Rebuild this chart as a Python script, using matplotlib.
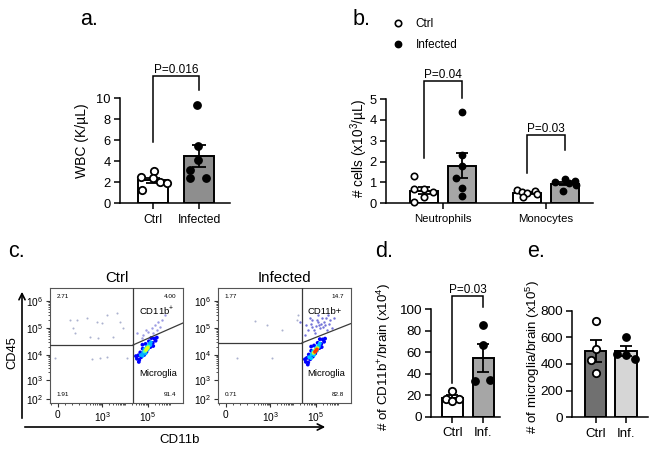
import matplotlib
matplotlib.use('Agg')
import matplotlib.pyplot as plt
import numpy as np
from matplotlib.lines import Line2D
from matplotlib.patches import FancyArrowPatch
from matplotlib.transforms import Affine2D

plt.rcParams['font.family'] = ['Liberation Sans', 'DejaVu Sans']
plt.rcParams['mathtext.fontset'] = 'custom'
plt.rcParams['mathtext.rm'] = 'Liberation Sans'
plt.rcParams['mathtext.it'] = 'Liberation Sans:italic'
plt.rcParams['mathtext.bf'] = 'Liberation Sans:bold'

# ---------------- data ----------------
# panel a
a_groups = ['Ctrl', 'Infected']
a_ctrl = [3.1, 2.5, 2.4, 2.0, 1.9, 1.3]
a_inf = [9.4, 5.5, 4.1, 3.15, 2.4, 2.45]
a_p = 'P=0.016'

# panel b
b_cells = ['Neutrophils', 'Monocytes']
b_series = ['Ctrl', 'Infected']
b_ctrl = [[1.33, 0.7, 0.7, 0.55, 0.3, 0.08], [0.65, 0.6, 0.55, 0.5, 0.45, 0.3]]
b_inf = [[4.4, 2.3, 1.8, 1.2, 0.75, 0.35], [1.15, 1.05, 1.0, 0.95, 0.9, 0.6]]
b_p = ['P=0.04', 'P=0.03']

# panel c (flow cytometry, display units: x,y in biexponential decades)
c_titles = ['Ctrl', 'Infected']
c_quadrants = [['2.71', '4.00', '1.91', '91.4'], ['1.77', '14.7', '0.71', '82.8']]
c_gate_labels = [['CD11b$^{+}$', 'Microglia'], ['CD11b+', 'Microglia']]
c_xticklabels = ['0', '$10^3$', '$10^5$']
c_yticklabels = ['$10^2$', '$10^3$', '$10^4$', '$10^5$', '$10^6$']
# sparse events
c_ctrl_sparse_x = [0.83, 1.13, 1.54, 1.96, 2.17, 2.38, 2.79, 2.92, 0.96, 1.04, 1.67, 2.0, 2.63, 3.04,
                   0.21, 1.75, 2.08, 2.38, 3.21]
c_ctrl_sparse_y = [5.28, 5.28, 5.36, 5.21, 5.17, 5.47, 5.55, 5.21, 4.98, 4.79, 4.64, 4.60, 4.64, 4.98,
                   3.85, 3.81, 3.85, 3.89, 3.85]
c_inf_sparse_x = [2.03, 2.65, 0.78, 2.24, 3.28, 3.33, 1.55]
c_inf_sparse_y = [5.09, 4.91, 3.84, 3.84, 5.28, 5.47, 5.25]
# CD11b+ events
c_ctrl_pos_x = [3.89, 4.10, 4.24, 4.30, 4.45, 4.58, 4.17, 3.82, 4.51, 4.79, 3.63, 4.00, 4.38, 4.66]
c_ctrl_pos_y = [4.72, 4.84, 4.97, 4.78, 4.91, 5.03, 4.65, 4.59, 5.22, 5.47, 4.79, 4.90, 5.10, 5.30]
c_inf_pos_x = [3.63, 3.75, 3.92, 4.04, 4.17, 4.25, 4.33, 4.46, 4.54, 4.67, 4.58, 4.17, 3.92, 4.42,
               4.08, 3.67, 3.42, 3.83, 4.75, 4.83, 4.30, 4.12, 4.50, 3.98, 4.38, 4.62, 4.22, 3.86]
c_inf_pos_y = [4.72, 4.91, 5.02, 4.79, 5.21, 4.98, 5.36, 5.09, 4.91, 5.28, 5.47, 5.47, 5.28, 5.21,
               5.06, 5.09, 5.21, 5.36, 4.98, 5.36, 5.15, 5.30, 5.35, 4.90, 5.00, 5.15, 5.08, 5.12]
# microglia events (x, y, relative density)
c_ctrl_mg_x = [3.62, 3.72, 3.68, 3.80, 3.76, 3.92, 3.86, 4.02, 3.98, 4.18, 4.12, 4.28, 4.34, 4.22, 3.58,
               4.40, 3.70, 4.30, 3.85, 4.45,
               3.78, 3.88, 3.93, 4.04, 4.14, 4.20, 3.86, 4.08, 3.98, 4.18,
               3.94, 4.02, 4.10, 3.99, 4.06, 4.03, 4.00, 4.07]
c_ctrl_mg_y = [3.82, 3.78, 3.95, 3.88, 4.06, 3.96, 4.20, 4.08, 4.38, 4.26, 4.48, 4.42, 4.58, 4.60, 3.92,
               4.50, 3.70, 4.30, 4.35, 4.62,
               3.96, 4.06, 4.18, 4.28, 4.38, 4.44, 3.93, 4.18, 4.02, 4.34,
               4.10, 4.20, 4.28, 4.13, 4.24, 4.20, 4.15, 4.23]
c_ctrl_mg_d = [0.12] * 20 + [0.3] * 10 + [0.45] * 5 + [0.62] * 3
c_inf_mg_x = [3.66, 3.76, 3.70, 3.84, 3.78, 3.95, 3.88, 4.05, 4.00, 4.22, 4.15, 4.30, 4.36, 4.24, 3.62,
              4.42, 3.74, 4.32, 3.88, 4.46,
              3.80, 3.90, 3.96, 4.08, 4.18, 4.24, 3.88, 4.12, 4.00, 4.20,
              3.98, 4.06, 4.14, 4.02, 4.10, 4.08, 4.04, 4.12]
c_inf_mg_y = [3.70, 3.68, 3.85, 3.80, 3.98, 3.90, 4.12, 4.02, 4.32, 4.22, 4.42, 4.38, 4.55, 4.56, 3.80,
              4.46, 3.60, 4.26, 4.28, 4.58,
              3.88, 3.98, 4.10, 4.22, 4.32, 4.40, 3.84, 4.12, 3.96, 4.28,
              4.04, 4.14, 4.22, 4.06, 4.18, 4.12, 4.08, 4.17]
c_inf_mg_d = [0.12] * 20 + [0.32] * 10 + [0.6] * 5 + [0.85] * 3

# panel d
d_groups = ['Ctrl', 'Inf.']
d_ctrl = [24, 16, 16, 15]
d_inf = [85, 67, 33, 34]
d_p = 'P=0.03'

# panel e
e_groups = ['Ctrl', 'Inf.']
e_ctrl = [725, 510, 430, 335]
e_inf = [600, 475, 470, 440]

# ---------------- layout helpers ----------------
W, H = 652, 451
fig = plt.figure(figsize=(W / 100, H / 100), dpi=100)
PX = Affine2D().scale(1 / W, -1 / H).translate(0, 1) + fig.transFigure


def add_ax(l, t, r, b):
    return fig.add_axes([l / W, 1 - b / H, (r - l) / W, (b - t) / H])


def sem(v):
    v = np.asarray(v, float)
    return v.std(ddof=1) / np.sqrt(len(v))


def style_bar_axes(ax, tick_fs, xfs):
    for s in ['top', 'right']:
        ax.spines[s].set_visible(False)
    for s in ['left', 'bottom']:
        ax.spines[s].set_linewidth(1.1)
    ax.tick_params(axis='both', direction='out', length=4.5, width=1.1, labelsize=tick_fs, pad=2)
    ax.tick_params(axis='x', labelsize=xfs, pad=3)


def bracket(ax, x0, x1, top, y0, y1, text, fs=8.5):
    ax.plot([x0, x0, x1, x1], [y0, top, top, y1], color='black', lw=1.1, clip_on=False,
            solid_joinstyle='miter')
    ax.text((x0 + x1) / 2, top, text, ha='center', va='bottom', fontsize=fs, clip_on=False)


BAR_KW = dict(edgecolor='black', linewidth=1.4, zorder=1)
ERR_KW = dict(fmt='none', ecolor='black', elinewidth=1.3, capthick=1.3, zorder=3)

# ---------------- panel a ----------------
axa = add_ax(120, 98.3, 230, 203.3)
xa = np.arange(len(a_groups))
a_vals = [a_ctrl, a_inf]
a_mean = [np.mean(v) for v in a_vals]
a_sem = [sem(v) for v in a_vals]
axa.bar(xa, a_mean, width=0.65, color=['white', '#8e8e8e'], **BAR_KW)
axa.errorbar(xa, a_mean, yerr=a_sem, capsize=5, **ERR_KW)
jit_a = [[0.02, -0.27, 0.0, 0.15, 0.3, -0.25], [-0.05, -0.02, -0.02, -0.2, -0.2, 0.14]]
axa.plot(xa[0] + np.array(jit_a[0]), a_ctrl, 'o', mfc='white', mec='black', mew=1.3, ms=5.3, zorder=4,
         clip_on=False)
axa.plot(xa[1] + np.array(jit_a[1]), a_inf, 'o', mfc='black', mec='black', ms=5.3, zorder=4,
         clip_on=False)
axa.set_xlim(-0.72, 1.67)
axa.set_ylim(0, 10)
axa.set_yticks([0, 2, 4, 6, 8, 10])
axa.set_xticks(xa)
axa.set_xticklabels(a_groups)
style_bar_axes(axa, 9.3, 8.7)
axa.set_ylabel('WBC (K/µL)', fontsize=10)
axa.yaxis.set_label_coords(89, 141, transform=PX)
bracket(axa, 0, 1, 12.12, 5.8, 10.8, a_p)

# ---------------- panel b ----------------
axb = add_ax(386, 99, 593, 203.3)
xb = np.arange(len(b_cells))
off, bw = 0.185, 0.27
b_mean_c = [np.mean(v) for v in b_ctrl]
b_mean_i = [np.mean(v) for v in b_inf]
axb.bar(xb - off, b_mean_c, width=bw, color='white', **BAR_KW)
axb.bar(xb + off, b_mean_i, width=bw, color='#a6a6a6', **BAR_KW)
axb.errorbar(xb - off, b_mean_c, yerr=[sem(v) for v in b_ctrl], capsize=4.5, **ERR_KW)
axb.errorbar(xb + off, b_mean_i, yerr=[sem(v) for v in b_inf], capsize=4.5, **ERR_KW)
jit_b_c = [[-0.1, -0.1, 0.0, 0.09, 0.0, -0.1], [-0.1, 0.08, -0.05, 0.0, 0.1, -0.04]]
jit_b_i = [[0.0, 0.0, 0.0, -0.06, 0.0, 0.0], [0.0, 0.1, -0.1, 0.04, 0.11, -0.02]]
for g in range(len(b_cells)):
    axb.plot(xb[g] - off + np.array(jit_b_c[g]), b_ctrl[g], 'o', mfc='white', mec='black', mew=1.2,
             ms=4.6, zorder=4, clip_on=False)
    axb.plot(xb[g] + off + np.array(jit_b_i[g]), b_inf[g], 'o', mfc='black', mec='black', ms=4.6,
             zorder=4, clip_on=False)
axb.set_xlim(-0.553, 1.456)
axb.set_ylim(0, 5)
axb.set_yticks([0, 1, 2, 3, 4, 5])
axb.set_xticks(xb)
axb.set_xticklabels(b_cells)
style_bar_axes(axb, 9.3, 8.2)
axb.set_ylabel('# cells (x10$^{3}$/µL)', fontsize=9.8)
axb.yaxis.set_label_coords(370, 148, transform=PX)
bracket(axb, -off, off, 5.85, 2.17, 5.05, b_p[0])
bracket(axb, 1 - off, 1 + off, 3.27, 1.45, 2.55, b_p[1])
handles = [Line2D([], [], ls='', marker='o', mfc='white', mec='black', mew=1.2, ms=4.6),
           Line2D([], [], ls='', marker='o', mfc='black', mec='black', ms=4.6)]
fig.legend(handles, b_series, loc='upper left', bbox_to_anchor=(392 / W, 1 - 18 / H), frameon=False,
           fontsize=8.5, handlelength=1.0, handletextpad=1.0, labelspacing=0.8, borderpad=0,
           borderaxespad=0)

# ---------------- panel c ----------------
flow_boxes = [(50, 288, 183, 403), (218, 288, 351, 403)]
gates = [(3.46, 4.34, 5.17), (3.5, 4.42, 5.15)]
sparse = [(c_ctrl_sparse_x, c_ctrl_sparse_y), (c_inf_sparse_x, c_inf_sparse_y)]
pos = [(c_ctrl_pos_x, c_ctrl_pos_y), (c_inf_pos_x, c_inf_pos_y)]
pos_alpha = [0.6, 0.85]
mg = [(c_ctrl_mg_x, c_ctrl_mg_y, c_ctrl_mg_d), (c_inf_mg_x, c_inf_mg_y, c_inf_mg_d)]
XL, YL = (0, 5.54), (2.15, 6.49)
xmaj = [0.33, 2.17, 4.08]
ymaj = [2.3, 3.02, 3.96, 4.98, 6.0]
xminor = [1.215 + (d + np.log10(k)) * 0.955 for d in range(0, 4) for k in range(2, 10)]
xminor += [0.33 + 0.3 * i for i in (-1, 1, 2)] + [1.215, 3.125]
yminor = [ymaj[i] + np.log10(k) * (ymaj[i + 1] - ymaj[i]) for i in range(1, 4) for k in range(2, 10)]
for i, (l, t, r, b) in enumerate(flow_boxes):
    ax = add_ax(l, t, r, b)
    ax.set_xlim(*XL)
    ax.set_ylim(*YL)
    sx, sy = sparse[i]
    ax.scatter(sx, sy, s=2.2, color='#9098c0', alpha=0.75, lw=0, zorder=2)
    px_, py_ = pos[i]
    ax.scatter(px_, py_, s=3.0, color='#5a5ad0', alpha=pos_alpha[i], lw=0, zorder=2)
    mx, my, md = mg[i]
    order = np.argsort(md)
    ax.scatter(np.array(mx)[order], np.array(my)[order], s=7.5, c=np.array(md)[order], cmap='jet',
               vmin=0, vmax=1, lw=0, zorder=3)
    gx, gy, gy2 = gates[i]
    gc = '#3a3a3a'
    ax.plot([gx, gx], YL, color=gc, lw=0.9, zorder=4)
    ax.plot([XL[0], gx], [gy, gy], color=gc, lw=0.9, zorder=4)
    ax.plot([gx, XL[1]], [gy, gy2], color=gc, lw=0.9, zorder=4)
    for s in ax.spines.values():
        s.set_linewidth(0.8)
        s.set_color('#555555')
    ax.set_xticks(xmaj)
    ax.set_xticklabels(c_xticklabels)
    ax.set_yticks(ymaj)
    ax.set_yticklabels(c_yticklabels)
    ax.set_xticks(xminor, minor=True)
    ax.set_yticks(yminor, minor=True)
    ax.tick_params(which='major', length=3, width=0.8, labelsize=7.3, pad=2, color='#333333')
    ax.tick_params(which='minor', length=1.6, width=0.6, color='#333333')
    q = c_quadrants[i]
    qfs = 4.6
    ax.text(0.05, 0.95, q[0], transform=ax.transAxes, fontsize=qfs, ha='left', va='top')
    ax.text(0.95, 0.95, q[1], transform=ax.transAxes, fontsize=qfs, ha='right', va='top')
    ax.text(0.05, 0.05, q[2], transform=ax.transAxes, fontsize=qfs, ha='left', va='bottom')
    ax.text(0.95, 0.05, q[3], transform=ax.transAxes, fontsize=qfs, ha='right', va='bottom')
    ax.text(0.80, 0.80, c_gate_labels[i][0], transform=ax.transAxes, fontsize=6.8, ha='center',
            va='center')
    ax.text(0.81, 0.26, c_gate_labels[i][1], transform=ax.transAxes, fontsize=6.8, ha='center',
            va='center')
    ax.set_title(c_titles[i], fontsize=10.8, pad=4)

fig.add_artist(FancyArrowPatch((22, 421), (22, 289), transform=PX, arrowstyle='->', mutation_scale=11,
                               lw=1.2, color='black'))
fig.add_artist(FancyArrowPatch((22, 427), (328, 427), transform=PX, arrowstyle='->', mutation_scale=11,
                               lw=1.2, color='black'))
fig.text(12, 353, 'CD45', transform=PX, rotation=90, ha='center', va='center', fontsize=9.3)
fig.text(180, 440, 'CD11b', transform=PX, ha='center', va='center', fontsize=9.5)

# ---------------- panel d ----------------
axd = add_ax(430.7, 309, 500, 416.7)
xd = np.arange(len(d_groups))
d_vals = [d_ctrl, d_inf]
d_mean = [np.mean(v) for v in d_vals]
axd.bar(xd, d_mean, width=0.68, color=['white', '#a6a6a6'], **BAR_KW)
axd.errorbar(xd, d_mean, yerr=[sem(v) for v in d_vals], capsize=4.5, **ERR_KW)
jit_d = [[0.0, -0.22, 0.22, 0.0], [0.0, 0.0, -0.26, 0.22]]
axd.plot(xd[0] + np.array(jit_d[0]), d_ctrl, 'o', mfc='white', mec='black', mew=1.3, ms=5.3, zorder=4)
axd.plot(xd[1] + np.array(jit_d[1]), d_inf, 'o', mfc='black', mec='black', ms=5.3, zorder=4)
axd.set_xlim(-0.71, 1.55)
axd.set_ylim(0, 100)
axd.set_yticks([0, 20, 40, 60, 80, 100])
axd.set_xticks(xd)
axd.set_xticklabels(d_groups)
style_bar_axes(axd, 9.7, 9.5)
axd.set_ylabel('# of CD11b$^{+}$/brain (x10$^{4}$)', fontsize=9.6)
axd.yaxis.set_label_coords(393, 357, transform=PX)
bracket(axd, 0, 1, 112, 31, 102, d_p)

# ---------------- panel e ----------------
axe = add_ax(572, 310.7, 648, 417.3)
xe = np.arange(len(e_groups))
e_vals = [e_ctrl, e_inf]
e_mean = [np.mean(v) for v in e_vals]
axe.bar(xe, e_mean, width=0.69, color=['#707070', '#d6d6d6'], **BAR_KW)
axe.errorbar(xe, e_mean, yerr=[sem(v) for v in e_vals], capsize=4.5, **ERR_KW)
jit_e = [[0.0, 0.0, -0.15, 0.0], [0.0, -0.28, 0.0, 0.28]]
axe.plot(xe[0] + np.array(jit_e[0]), e_ctrl, 'o', mfc='white', mec='black', mew=1.3, ms=5.3, zorder=4)
axe.plot(xe[1] + np.array(jit_e[1]), e_inf, 'o', mfc='black', mec='black', ms=5.3, zorder=4)
axe.set_xlim(-0.77, 1.72)
axe.set_ylim(0, 800)
axe.set_yticks([0, 200, 400, 600, 800])
axe.set_xticks(xe)
axe.set_xticklabels(e_groups)
style_bar_axes(axe, 9.7, 9.5)
axe.set_ylabel('# of microglia/brain (x10$^{5}$)', fontsize=9.6)
axe.yaxis.set_label_coords(542, 357, transform=PX)

# ---------------- panel letters ----------------
for lab, x, y in [('a.', 80, 25), ('b.', 353, 25), ('c.', 8, 257), ('d.', 375, 257), ('e.', 527, 257)]:
    fig.text(x, y, lab, transform=PX, fontsize=15.5, ha='left', va='baseline')

fig.savefig('out.png', dpi=100)
